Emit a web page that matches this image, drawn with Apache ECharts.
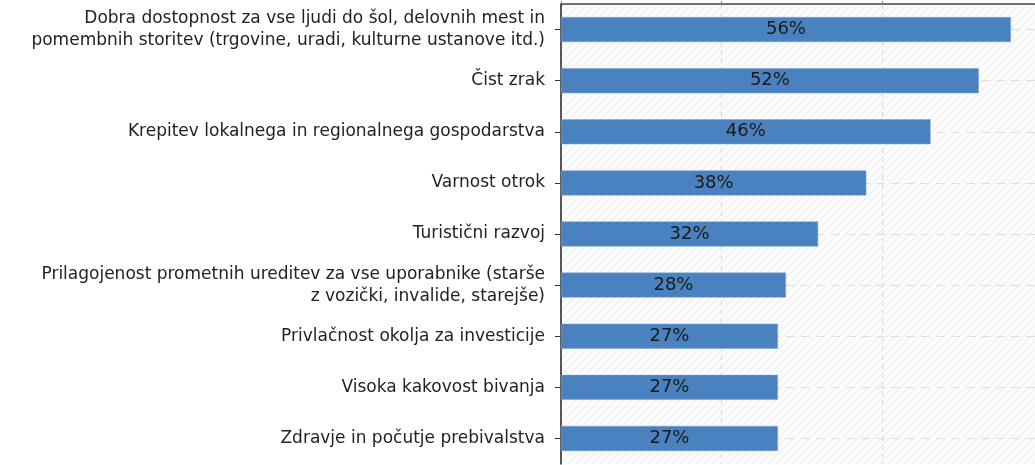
<!DOCTYPE html>
<html>
<head>
<meta charset="utf-8">
<script src="https://cdn.jsdelivr.net/npm/echarts@6/dist/echarts.min.js"></script>
<style>
  html, body { margin: 0; padding: 0; background: #fff; }
  #chart { width: 1035px; height: 465px; }
</style>
</head>
<body>
<div id="chart"></div>
<script>
let categories = [
  'Dobra dostopnost za vse ljudi do šol, delovnih mest in\npomembnih storitev (trgovine, uradi, kulturne ustanove itd.)',
  'Čist zrak',
  'Krepitev lokalnega in regionalnega gospodarstva',
  'Varnost otrok',
  'Turistični razvoj',
  'Prilagojenost prometnih ureditev za vse uporabnike (starše\nz vozički, invalide, starejše)',
  'Privlačnost okolja za investicije',
  'Visoka kakovost bivanja',
  'Zdravje in počutje prebivalstva'
];
let shares = [56, 52, 46, 38, 32, 28, 27, 27, 27];

// light diagonal hatch for the plot area
function hatch() {
  let c = document.createElement('canvas');
  c.width = 8; c.height = 8;
  let ctx = c.getContext('2d');
  ctx.fillStyle = '#fbfbfb';
  ctx.fillRect(0, 0, 8, 8);
  ctx.strokeStyle = '#eaeaea';
  ctx.lineWidth = 1;
  ctx.beginPath();
  ctx.moveTo(0, 8); ctx.lineTo(8, 0);
  ctx.moveTo(-4, 4); ctx.lineTo(4, -4);
  ctx.moveTo(4, 12); ctx.lineTo(12, 4);
  ctx.stroke();
  return c;
}

let chart = echarts.init(document.getElementById('chart'));
chart.setOption({
  animation: false,
  grid: {
    left: 561,
    top: 4,
    right: 0,
    height: 460,
    show: true,
    borderWidth: 0,
    backgroundColor: { image: hatch(), repeat: 'repeat' }
  },
  xAxis: {
    type: 'value',
    position: 'top',
    min: 0,
    max: 59,
    interval: 20,
    axisLabel: { show: false },
    axisLine: { show: true, lineStyle: { color: '#444', width: 1.5 } },
    axisTick: { show: true, length: 3, lineStyle: { color: '#888' } },
    splitLine: { show: true, lineStyle: { color: '#d8d8d8', type: [5, 4] } }
  },
  yAxis: {
    type: 'category',
    data: categories,
    inverse: true,
    axisLine: { show: true, lineStyle: { color: '#222', width: 1.5 } },
    axisTick: { show: true, alignWithLabel: true, length: 6, lineStyle: { color: '#333' } },
    splitLine: { show: true, alignWithLabel: true, lineStyle: { color: '#dedede', type: [9, 6] } },
    axisLabel: {
      margin: 16,
      fontFamily: 'DejaVu Sans',
      fontSize: 17,
      color: '#222',
      lineHeight: 22,
      align: 'right'
    }
  },
  series: [{
    type: 'bar',
    data: shares,
    barWidth: 25,
    itemStyle: { color: '#4a81bf', borderColor: '#7aa3d3', borderWidth: 0.5 },
    label: {
      show: true,
      position: 'inside',
      formatter: '{c}%',
      fontFamily: 'DejaVu Sans',
      fontSize: 18,
      color: '#1a1a1a'
    }
  }]
});
</script>
</body>
</html>
